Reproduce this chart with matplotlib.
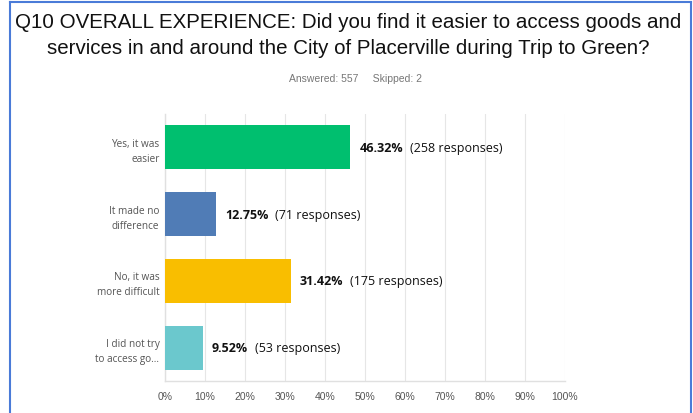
import matplotlib
matplotlib.use("Agg")
import matplotlib.pyplot as plt
from matplotlib.lines import Line2D

categories = ["Yes, it was\neasier", "It made no\ndifference", "No, it was\nmore difficult", "I did not try\nto access go..."]
percents = [46.32, 12.75, 31.42, 9.52]
responses = [258, 71, 175, 53]
colors = ["#00BF6F", "#507CB6", "#F9BE00", "#6BC8CD"]
xticks = list(range(0, 101, 10))
xtick_labels = [f"{t}%" for t in xticks]

W, H = 693, 414
fig = plt.figure(figsize=(W / 100, H / 100), dpi=100)
fig.patch.set_facecolor("white")

# axes: x 165..565 px, y 115..382 px
ax = fig.add_axes([165 / W, 1 - 382 / H, 400 / W, 267 / H])
y = list(range(len(categories)))
ax.barh(y, percents, height=0.66, color=colors, zorder=3)
ax.set_xlim(0, 100)
ax.set_ylim(len(categories) - 0.5, -0.5)
ax.set_xticks(xticks)
ax.set_xticklabels(xtick_labels, fontsize=7.5, color="#555555", family="Liberation Sans")
ax.set_yticks(y)
ax.set_yticklabels(categories, fontsize=7.2, color="#555555", family="Open Sans", linespacing=1.5)
ax.tick_params(axis="both", length=0, pad=4)
ax.tick_params(axis="x", pad=7)
ax.grid(axis="x", color="#E6E6E6", linewidth=0.8, zorder=0)
for s in ["top", "right"]:
    ax.spines[s].set_visible(False)
for s in ["left", "bottom"]:
    ax.spines[s].set_color("#E0E0E0")
    ax.spines[s].set_linewidth(1.0)

for i, (p, r) in enumerate(zip(percents, responses)):
    t = ax.annotate(f"{p:.2f}%", xy=(p, i), xytext=(6.5, 0), textcoords="offset points",
                    va="center", ha="left", fontsize=9, fontweight="bold",
                    family="Open Sans", color="#111111")
    ax.annotate(f"({r} responses)", xy=(1, 0.5), xycoords=t, xytext=(5, 0),
                textcoords="offset points", va="center", ha="left",
                fontsize=9, family="Open Sans", color="#111111")

fig.text(348 / W, 1 - 22 / H, "Q10 OVERALL EXPERIENCE: Did you find it easier to access goods and",
         ha="center", va="center", fontsize=14.8, family="Liberation Sans", color="#111111")
fig.text(348 / W, 1 - 48 / H, "services in and around the City of Placerville during Trip to Green?",
         ha="center", va="center", fontsize=14.8, family="Liberation Sans", color="#111111")
fig.text(355 / W, 1 - 79 / H, "Answered: 557     Skipped: 2", ha="center", va="center",
         fontsize=7.5, family="Liberation Sans", color="#777777")

border = "#4A7BD8"
fig.add_artist(Line2D([10 / W, 10 / W], [0, 1 - 3 / H], color=border, linewidth=1.5))
fig.add_artist(Line2D([10 / W, 691 / W], [1 - 3 / H, 1 - 3 / H], color=border, linewidth=1.5))
fig.add_artist(Line2D([691 / W, 691 / W], [0, 1 - 3 / H], color=border, linewidth=1.5))

fig.savefig("out.png", dpi=100)
